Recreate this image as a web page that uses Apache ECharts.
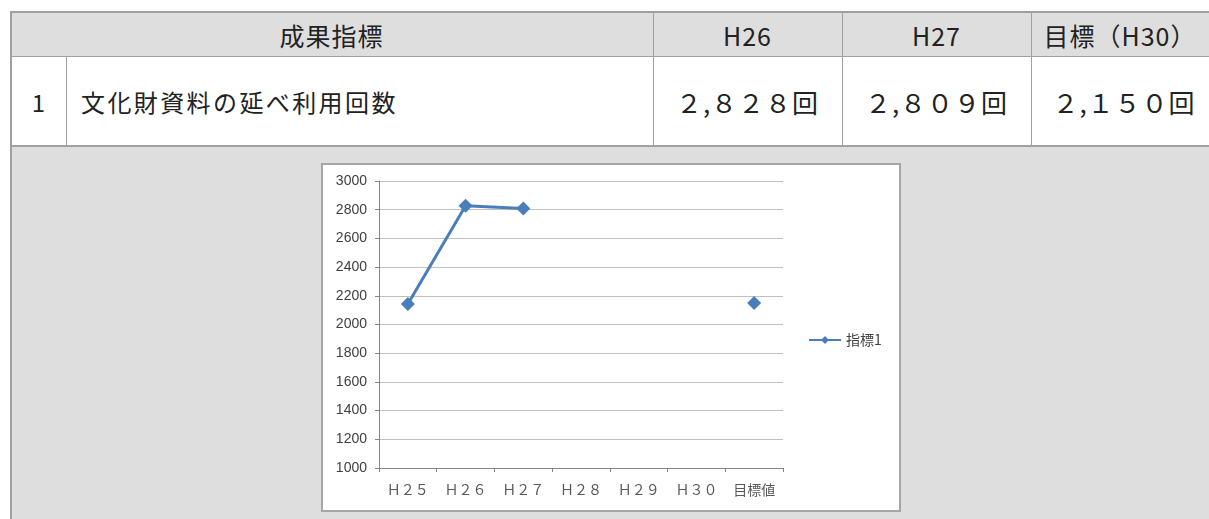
<!DOCTYPE html>
<html>
<head>
<meta charset="utf-8">
<script src="https://cdn.jsdelivr.net/npm/echarts@6/dist/echarts.min.js"></script>
<style>
body { margin: 0; width: 1209px; height: 519px; overflow: hidden; background: #fff;
  font-family: "Noto Sans CJK JP", sans-serif; color: #222; }
.cell { position: absolute; box-sizing: border-box; display: flex; align-items: center; justify-content: center; }
.hd { background: #dedede; font-size: 25px; letter-spacing: 1px; }
.rw { background: #fff; font-size: 24px; }
.num { font-size: 26px; letter-spacing: 1px; }
.vl { position: absolute; background: #a0a0a0; }
#box { position: absolute; left: 321px; top: 163px; width: 580px; height: 349px; box-sizing: border-box;
  border: 2px solid #a6a6a6; background: #fff; }
#chart { width: 576px; height: 345px; }
</style>
</head>
<body>
<!-- 表部分 -->
<div class="cell hd" style="left:10px;top:12px;width:1199px;height:45px;"></div>
<div class="cell hd" style="left:10px;top:12px;width:643px;height:45px;">成果指標</div>
<div class="cell hd" style="left:653px;top:12px;width:189px;height:45px;">H26</div>
<div class="cell hd" style="left:842px;top:12px;width:189px;height:45px;">H27</div>
<div class="cell hd" style="left:1031px;top:12px;width:178px;height:45px;">目標（H30）</div>
<div class="cell rw" style="left:10px;top:57px;width:57px;height:89px;">1</div>
<div class="cell rw" style="left:67px;top:57px;width:586px;height:89px;justify-content:flex-start;padding-left:14px;letter-spacing:2.4px;">文化財資料の延べ利用回数</div>
<div class="cell rw num" style="left:653px;top:57px;width:189px;height:89px;">２,８２８回</div>
<div class="cell rw num" style="left:842px;top:57px;width:189px;height:89px;">２,８０９回</div>
<div class="cell rw num" style="left:1031px;top:57px;width:178px;height:89px;padding-left:8px;">２,１５０回</div>
<div class="cell" style="left:10px;top:146px;width:1199px;height:373px;background:#dedede;"></div>
<!-- 罫線 -->
<div class="vl" style="left:10px;top:11px;width:1199px;height:2px;"></div>
<div class="vl" style="left:10px;top:56px;width:1199px;height:1px;"></div>
<div class="vl" style="left:10px;top:145px;width:1199px;height:2px;"></div>
<div class="vl" style="left:10px;top:11px;width:2px;height:508px;"></div>
<div class="vl" style="left:66px;top:57px;width:1px;height:89px;"></div>
<div class="vl" style="left:653px;top:12px;width:1px;height:134px;"></div>
<div class="vl" style="left:842px;top:12px;width:1px;height:134px;"></div>
<div class="vl" style="left:1031px;top:12px;width:1px;height:134px;"></div>

<div id="box"><div id="chart"></div></div>
<script>
var categories = ['Ｈ２５', 'Ｈ２６', 'Ｈ２７', 'Ｈ２８', 'Ｈ２９', 'Ｈ３０', '目標値'];
var values = [2143, 2828, 2809, null, null, null, 2150];
var seriesName = '指標1';

var chart = echarts.init(document.getElementById('chart'));
var option = {
  animation: false,
  grid: { left: 56, right: 116, top: 16, bottom: 42 },
  legend: {
    orient: 'vertical',
    left: 480, top: 163,
    itemWidth: 32, itemHeight: 10, itemGap: 4,
    textStyle: { fontSize: 14, color: '#404040', fontFamily: 'Noto Sans CJK JP' },
    data: [seriesName]
  },
  xAxis: {
    type: 'category',
    data: categories,
    boundaryGap: true,
    axisLine: { lineStyle: { color: '#868686' } },
    axisTick: { show: true, length: 4, lineStyle: { color: '#868686' } },
    axisLabel: { fontSize: 14, color: '#595959', margin: 15, fontFamily: 'Noto Sans CJK JP' }
  },
  yAxis: {
    type: 'value',
    min: 1000, max: 3000, interval: 200,
    axisLine: { show: true, lineStyle: { color: '#868686' } },
    axisTick: { show: true, length: 4, lineStyle: { color: '#868686' } },
    axisLabel: {
      fontSize: 14, color: '#404040', margin: 12, fontFamily: 'Liberation Sans',
      formatter: function (v) { return String(v); }
    },
    splitLine: { lineStyle: { color: '#c0c0c0', width: 1 } }
  },
  series: [{
    name: seriesName,
    type: 'line',
    data: values,
    connectNulls: false,
    symbol: 'diamond',
    symbolSize: 14,
    color: '#4a7ebb',
    lineStyle: { width: 3, color: '#4a7ebb' },
    itemStyle: { color: '#4a7ebb' }
  }]
};
chart.setOption(option);
</script>
</body>
</html>
